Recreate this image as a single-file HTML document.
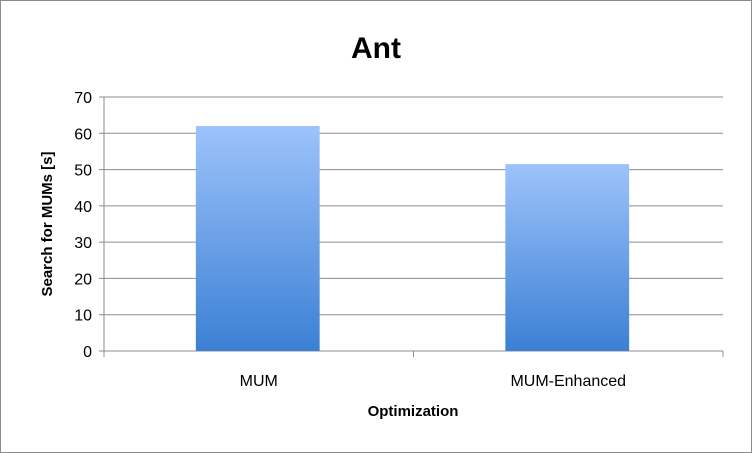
<!DOCTYPE html>
<html><head><meta charset="utf-8"><style>
body{margin:0;background:#fff;font-family:"Liberation Sans",sans-serif}
svg{display:block}
</style></head><body>
<svg width="752" height="453" xmlns="http://www.w3.org/2000/svg">
<defs><linearGradient id="g" x1="0" y1="0" x2="0" y2="1"><stop offset="0" stop-color="#9dc3fb"/><stop offset="1" stop-color="#3b80d4"/></linearGradient></defs>
<rect x="0.5" y="0.5" width="751" height="452" fill="#fff" stroke="#8c8c8c"/>
<text x="376" y="58" text-anchor="middle" font-size="30" font-weight="bold">Ant</text>
<g id="grid"></g><g id="bars"></g><g id="axes"></g>
<text x="52" y="224" transform="rotate(-90 52 224)" text-anchor="middle" font-size="15" font-weight="bold">Search for MUMs [s]</text>
<text x="413" y="416" text-anchor="middle" font-size="15" font-weight="bold">Optimization</text>
</svg>
<script>
const categories=["MUM","MUM-Enhanced"];
const values=[62,51.5];
const yTicks=[0,10,20,30,40,50,60,70];
const NS="http://www.w3.org/2000/svg";
const L=104,R=723,T=97,B=351,yMax=70;
const y=v=>B-(v/yMax)*(B-T);
const cw=(R-L)/categories.length;
const x=i=>L+cw*i;
function mk(tag,attrs,parent){const e=document.createElementNS(NS,tag);for(const k in attrs)e.setAttribute(k,attrs[k]);document.getElementById(parent).appendChild(e);return e;}
yTicks.forEach(t=>{
 const l=mk('line',{x1:L-5,x2:R,y1:y(t),y2:y(t),stroke:'#8c8c8c','stroke-width':1},'grid');
 
 
 const tx=mk('text',{x:L-12,y:y(t)+6,'text-anchor':'end','font-size':16},'axes');
 tx.textContent=t;
 
 
});
categories.forEach((c,i)=>{
 const bw=cw*0.4;
 const r=mk('rect',{x:x(i)+cw/2-bw/2-1,y:y(values[i]),width:bw,height:B-y(values[i]),fill:'url(#g)'},'bars');
 
 
 const tx=mk('text',{x:x(i)+cw/2,y:386,'text-anchor':'middle','font-size':16},'axes');
 tx.textContent=c;
 
 
});
for(let i=0;i<=categories.length;i++){
 const l=mk('line',{x1:x(i),x2:x(i),y1:B,y2:B+6,stroke:'#8c8c8c'},'axes');
 
 
}
const ya=mk('line',{x1:L,x2:L,y1:T,y2:B,stroke:'#8c8c8c'},'axes');


</script>
</body></html>
